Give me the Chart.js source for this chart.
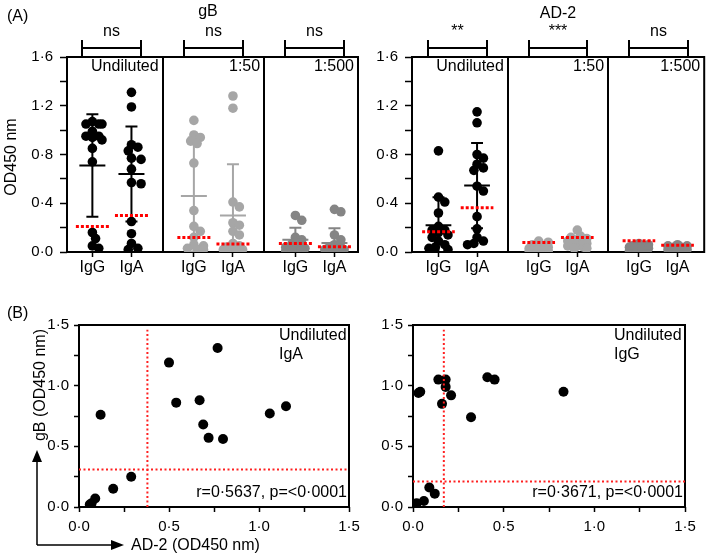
<!DOCTYPE html>
<html>
<head>
<meta charset="utf-8">
<script src="https://cdn.jsdelivr.net/npm/chart.js@4.4.1/dist/chart.umd.min.js"></script>
<style>
html,body{margin:0;padding:0;background:#ffffff;}
#fig{position:relative;width:709px;height:554px;overflow:hidden;background:#fff;font-family:"Liberation Sans",Arial,Helvetica,sans-serif;color:#000;}
#fig canvas{position:absolute;left:0;top:0;}
.t{position:absolute;white-space:nowrap;font-size:16px;line-height:1;}
</style>
</head>
<body>
<div id="fig">
<canvas id="cA1" width="709" height="554"></canvas>
<canvas id="cA2" width="709" height="554"></canvas>
<canvas id="cB1" width="709" height="554"></canvas>
<canvas id="cB2" width="709" height="554"></canvas>
</div>
<script>
// ---------------- DATA ----------------
const categories = ['IgG', 'IgA'];
const dilutions = ['Undiluted', '1:50', '1:500'];
const yTicksA = [0, 0.4, 0.8, 1.2, 1.6];
const xyTicksB = [0, 0.5, 1.0, 1.5];

// gB, OD450 (undiluted values are paired with AD-2 values, same order = same subject)
const gB_IgG_undiluted = [0.03, 0.05, 0.16, 0.11, 0.95, 1.05, 1.05, 0.99, 0.85, 0.92, 0.74, 1.07, 1.05, 0.95, 0.94];
const gB_IgA_undiluted = [0.76, 1.19, 0.86, 0.88, 0.68, 0.57, 1.31, 0.56, 0.77, 0.83, 0.25, 0.15, 0.07, 0.03, 0.02];
const gB_IgG_1to50  = [1.08, 0.96, 0.94, 0.91, 0.89, 0.73, 0.34, 0.21, 0.17, 0.12, 0.06, 0.05, 0.03, 0.02, 0.02];
const gB_IgA_1to50  = [1.28, 1.18, 0.41, 0.37, 0.24, 0.22, 0.17, 0.14, 0.07, 0.05, 0.04, 0.03, 0.02, 0.02, 0.01];
const gB_IgG_1to500 = [0.30, 0.26, 0.12, 0.10, 0.07, 0.05, 0.04, 0.03, 0.03, 0.02, 0.02, 0.02, 0.01, 0.01, 0.01];
const gB_IgA_1to500 = [0.35, 0.33, 0.14, 0.10, 0.06, 0.04, 0.03, 0.03, 0.02, 0.02, 0.02, 0.01, 0.01, 0.01, 0.01];

// AD-2, OD450
const AD2_IgG_undiluted = [0.02, 0.06, 0.09, 0.12, 0.04, 0.14, 0.18, 0.18, 0.16, 0.21, 0.32, 0.41, 0.45, 0.83, 0.03];
const AD2_IgA_undiluted = [0.12, 0.50, 0.54, 0.67, 0.69, 0.72, 0.77, 0.80, 1.06, 1.15, 0.29, 0.19, 0.09, 0.07, 0.06];
const AD2_IgG_1to50  = [0.09, 0.08, 0.06, 0.05, 0.04, 0.03, 0.03, 0.02, 0.02, 0.02, 0.01, 0.01, 0.01, 0.01, 0.01];
const AD2_IgA_1to50  = [0.18, 0.13, 0.12, 0.11, 0.10, 0.09, 0.08, 0.07, 0.07, 0.06, 0.05, 0.05, 0.04, 0.03, 0.03];
const AD2_IgG_1to500 = [0.07, 0.06, 0.05, 0.05, 0.04, 0.04, 0.03, 0.03, 0.03, 0.02, 0.02, 0.02, 0.01, 0.01, 0.01];
const AD2_IgA_1to500 = [0.06, 0.05, 0.05, 0.04, 0.04, 0.03, 0.03, 0.03, 0.02, 0.02, 0.02, 0.01, 0.01, 0.01, 0.01];

// mean, SD and cut-off per group, order: IgG/IgA for Undiluted, 1:50, 1:500
const gB_mean   = [0.71, 0.64, 0.46, 0.30, 0.10, 0.074];
const gB_sd     = [0.42, 0.39, 0.48, 0.42, 0.10, 0.12];
const gB_cutoff = [0.21, 0.30, 0.12, 0.066, 0.07, 0.044];
const AD2_mean   = [0.22, 0.545, 0.035, 0.08, 0.03, 0.025];
const AD2_sd     = [0.23, 0.35, 0.03, 0.04, 0.02, 0.015];
const AD2_cutoff = [0.167, 0.364, 0.077, 0.12, 0.093, 0.055];

const gB_sig  = ['ns', 'ns', 'ns'];
const AD2_sig = ['**', '***', 'ns'];

// panel B cut-offs (AD-2 on x, gB on y)
const B_IgA_cutoff = [0.38, 0.31];
const B_IgG_cutoff = [0.17, 0.21];
const B_IgA_stats = 'r=0\u00B75637, p=<0\u00B70001';
const B_IgG_stats = 'r=0\u00B73671, p=<0\u00B70001';

// ---------------- STYLE / HELPERS ----------------
const FONT = '"Liberation Sans", Arial, Helvetica, sans-serif';
const dilutionColors = ['#000000', '#a6a6a6', '#858585'];
const fmt = v => v.toFixed(1).replace('.', '\u00B7');
const fig = document.getElementById('fig');

function addText(txt, x, y, align, size, rot) {
  const d = document.createElement('div');
  d.className = 't';
  d.textContent = txt;
  d.style.left = x + 'px';
  d.style.top = y + 'px';
  d.style.fontSize = (size || 16) + 'px';
  const tx = align === 'right' ? '-100%' : align === 'left' ? '0' : '-50%';
  d.style.transform = 'translate(' + tx + ',-50%)' + (rot ? ' rotate(' + rot + 'deg)' : '');
  fig.appendChild(d);
}

// compact beeswarm layout (pixel space); overlap allowed once the column is full
function swarm(vals, cx, xPx, yPx) {
  const idx = vals.map((v, i) => i).sort((a, b) => vals[b] - vals[a]);
  const placed = [];
  const out = new Array(vals.length);
  const minD = 6.8, step = 3.2, maxOff = 11;
  const cands = [0];
  for (let k = 1; k * step <= maxOff; k++) { cands.push(k * step, -k * step); }
  idx.forEach(i => {
    const py = vals[i] * yPx;
    let best = 0, bestD = -1, chosen = null;
    for (const c of cands) {
      const d = placed.length ? Math.min(...placed.map(p => Math.hypot(p[0] - c, p[1] - py))) : Infinity;
      if (d >= minD) { chosen = c; break; }
      if (d > bestD) { bestD = d; best = c; }
    }
    const dx = chosen === null ? best : chosen;
    placed.push([dx, py]);
    out[i] = { x: cx + dx / xPx, y: vals[i] };
  });
  return out;
}

const decoA = {
  id: 'decoA',
  beforeDatasetsDraw(chart, args, o) {
    const { ctx, chartArea: ca, scales: { x } } = chart;
    ctx.save();
    ctx.strokeStyle = '#000';
    ctx.lineWidth = 2;
    ctx.strokeRect(ca.left, ca.top, ca.right - ca.left, ca.bottom - ca.top);
    o.dividers.forEach(v => {
      const px = Math.round(x.getPixelForValue(v));
      ctx.beginPath(); ctx.moveTo(px, ca.top); ctx.lineTo(px, ca.bottom); ctx.stroke();
    });
    ctx.fillStyle = '#000';
    ctx.font = '16px ' + FONT;
    ctx.textBaseline = 'middle';
    o.brackets.forEach((b, i) => {
      const x1 = Math.round(x.getPixelForValue(b[0])) - 10, x2 = Math.round(x.getPixelForValue(b[1])) + 10;
      const yl = ca.top - 9, yt = ca.top - 17;
      ctx.beginPath();
      ctx.moveTo(x1, yt); ctx.lineTo(x1, ca.top);
      ctx.moveTo(x2, yt); ctx.lineTo(x2, ca.top);
      ctx.moveTo(x1, yl); ctx.lineTo(x2, yl);
      ctx.stroke();
      ctx.textAlign = 'center';
      ctx.fillText(o.sig[i], (x1 + x2) / 2, ca.top - 25);
    });
    ctx.textAlign = 'right';
    o.labels.forEach((t, i) => {
      const right = i < o.dividers.length ? x.getPixelForValue(o.dividers[i]) : ca.right;
      ctx.fillText(t, right - 4, ca.top + 10);
    });
    ctx.restore();
  }
};

const decoB = {
  id: 'decoB',
  beforeDatasetsDraw(chart) {
    const { ctx, chartArea: ca } = chart;
    ctx.save();
    ctx.strokeStyle = '#000';
    ctx.lineWidth = 2;
    ctx.strokeRect(ca.left, ca.top, ca.right - ca.left, ca.bottom - ca.top);
    ctx.restore();
  }
};

const arrowsB = {
  id: 'arrowsB',
  afterDraw(chart) {
    const ctx = chart.ctx;
    ctx.save();
    ctx.strokeStyle = '#000'; ctx.fillStyle = '#000'; ctx.lineWidth = 1.5;
    const ox = 37, oy = 545;
    ctx.beginPath(); ctx.moveTo(ox, oy); ctx.lineTo(ox, 460); ctx.moveTo(ox, oy); ctx.lineTo(113, oy); ctx.stroke();
    ctx.beginPath(); ctx.moveTo(ox, 450); ctx.lineTo(ox - 5, 462); ctx.lineTo(ox + 5, 462); ctx.closePath(); ctx.fill();
    ctx.beginPath(); ctx.moveTo(124, oy); ctx.lineTo(111, oy - 5); ctx.lineTo(111, oy + 5); ctx.closePath(); ctx.fill();
    ctx.restore();
  }
};

const SP = 0.385; // IgA offset inside a dilution panel (x units)

function buildA(id, geo, series, mean, sd, cut, sig) {
  const xPx = (geo.R - geo.L) / (geo.xmax - geo.xmin);
  const yPx = (geo.B - geo.T) / 1.6;
  const centers = [];
  for (let k = 0; k < 3; k++) { centers.push(k, k + SP); }
  const datasets = [];
  series.forEach((vals, i) => {
    const col = dilutionColors[Math.floor(i / 2)];
    const cx = centers[i];
    datasets.push({
      data: swarm(vals, cx, xPx, yPx),
      pointRadius: 4.8, pointHoverRadius: 4.8,
      pointBackgroundColor: col, pointBorderWidth: 0, pointBorderColor: col,
      showLine: false, order: 3
    });
    const hi = mean[i] + sd[i], lo = Math.max(0, mean[i] - sd[i]);
    const cw = 6 / xPx, mw = 13 / xPx;
    datasets.push({
      data: [
        { x: cx, y: lo }, { x: cx, y: hi }, { x: cx, y: null },
        { x: cx - cw, y: hi }, { x: cx + cw, y: hi }, { x: cx, y: null },
        { x: cx - cw, y: lo }, { x: cx + cw, y: lo }, { x: cx, y: null },
        { x: cx - mw, y: mean[i] }, { x: cx + mw, y: mean[i] }
      ],
      showLine: true, spanGaps: false, borderColor: col, borderWidth: 2,
      pointRadius: 0, pointHoverRadius: 0, order: 2, borderCapStyle: 'butt'
    });
    const rw = 16.5 / xPx;
    datasets.push({
      data: [{ x: cx - rw, y: cut[i] }, { x: cx + rw, y: cut[i] }],
      showLine: true, borderColor: '#ff0000', borderWidth: 3, borderDash: [3, 2],
      borderCapStyle: 'butt', pointRadius: 0, pointHoverRadius: 0, order: 1
    });
  });
  return new Chart(document.getElementById(id), {
    type: 'scatter',
    data: { datasets },
    plugins: [decoA],
    options: {
      responsive: false, animation: false, events: [],
      layout: { padding: { left: 0, top: geo.T, right: 709 - geo.R, bottom: 0 } },
      plugins: {
        legend: { display: false }, tooltip: { enabled: false },
        decoA: {
          dividers: [SP + (1 - SP) / 2, 1 + SP + (1 - SP) / 2],
          brackets: [[0, SP], [1, 1 + SP], [2, 2 + SP]],
          sig: sig,
          labels: dilutions
        }
      },
      scales: {
        x: {
          type: 'linear', min: geo.xmin, max: geo.xmax,
          afterBuildTicks: s => { s.ticks = centers.map(v => ({ value: v })); },
          afterFit: s => { s.height = 554 - geo.B; },
          border: { display: false },
          grid: { drawOnChartArea: false, drawTicks: true, tickLength: 5, tickColor: '#000', tickWidth: 1.5 },
          ticks: { autoSkip: false, maxRotation: 0, padding: 1, color: '#000', font: { family: FONT, size: 16 },
                   callback: (v, i) => categories[i % 2] }
        },
        y: {
          type: 'linear', min: 0, max: 1.6,
          afterFit: s => { s.width = geo.L; },
          border: { display: false },
          grid: { drawOnChartArea: false, drawTicks: true, tickLength: 7, tickColor: '#000', tickWidth: 1.5 },
          ticks: { stepSize: 0.2, padding: 7, color: '#000', font: { family: FONT, size: 15 },
                   callback: v => (yTicksA.some(t => Math.abs(t - v) < 1e-6) ? fmt(v) : '') }
        }
      }
    }
  });
}

function buildB(id, geo, xs, ys, cutoff, extra) {
  const pts = xs.map((v, i) => ({ x: v, y: ys[i] }));
  const datasets = [
    { data: pts, pointRadius: 5, pointHoverRadius: 5, pointBackgroundColor: '#000', pointBorderWidth: 0, showLine: false, order: 2 },
    { data: [{ x: cutoff[0], y: 0 }, { x: cutoff[0], y: 1.46 }], showLine: true, borderColor: '#ff2020', borderWidth: 2,
      borderDash: [2, 2.5], pointRadius: 0, pointHoverRadius: 0, order: 1 },
    { data: [{ x: 0, y: cutoff[1] }, { x: 1.5, y: cutoff[1] }], showLine: true, borderColor: '#ff2020', borderWidth: 2,
      borderDash: [2, 2.5], pointRadius: 0, pointHoverRadius: 0, order: 1 }
  ];
  const tickCb = v => (xyTicksB.some(t => Math.abs(t - v) < 1e-6) ? fmt(v) : '');
  return new Chart(document.getElementById(id), {
    type: 'scatter',
    data: { datasets },
    plugins: [decoB].concat(extra || []),
    options: {
      responsive: false, animation: false, events: [],
      layout: { padding: { left: 0, top: geo.T, right: 709 - geo.R, bottom: 0 } },
      plugins: { legend: { display: false }, tooltip: { enabled: false } },
      scales: {
        x: {
          type: 'linear', min: 0, max: 1.5,
          afterFit: s => { s.height = 554 - geo.B; },
          border: { display: false },
          grid: { drawOnChartArea: false, drawTicks: true, tickLength: 5, tickColor: '#000', tickWidth: 1.5 },
          ticks: { stepSize: 0.25, autoSkip: false, maxRotation: 0, padding: 6, color: '#000',
                   font: { family: FONT, size: 15 }, callback: tickCb }
        },
        y: {
          type: 'linear', min: 0, max: 1.5,
          afterFit: s => { s.width = geo.L; },
          border: { display: false },
          grid: { drawOnChartArea: false, drawTicks: true, tickLength: 5, tickColor: '#000', tickWidth: 1.5 },
          ticks: { stepSize: 0.25, padding: 5, color: '#000', font: { family: FONT, size: 15 }, callback: tickCb }
        }
      }
    }
  });
}

// ---------------- CHARTS ----------------
buildA('cA1', { L: 67, R: 358, T: 57, B: 252, xmin: -0.25, xmax: 2.617 },
  [gB_IgG_undiluted, gB_IgA_undiluted, gB_IgG_1to50, gB_IgA_1to50, gB_IgG_1to500, gB_IgA_1to500],
  gB_mean, gB_sd, gB_cutoff, gB_sig);
buildA('cA2', { L: 412, R: 707, T: 57, B: 252, xmin: -0.264, xmax: 2.651 },
  [AD2_IgG_undiluted, AD2_IgA_undiluted, AD2_IgG_1to50, AD2_IgA_1to50, AD2_IgG_1to500, AD2_IgA_1to500],
  AD2_mean, AD2_sd, AD2_cutoff, AD2_sig);
buildB('cB1', { L: 79, R: 349, T: 325, B: 507 }, AD2_IgA_undiluted, gB_IgA_undiluted, B_IgA_cutoff, [arrowsB]);
buildB('cB2', { L: 413, R: 685, T: 325, B: 507 }, AD2_IgG_undiluted, gB_IgG_undiluted, B_IgG_cutoff);

// ---------------- TEXT ----------------
addText('(A)', 7, 16, 'left', 16);
addText('gB', 208, 11, 'center', 16);
addText('AD-2', 558, 12.5, 'center', 16);
addText('OD450 nm', 11, 157, 'center', 16, -90);
addText('(B)', 7, 313, 'left', 16);
addText('gB (OD450 nm)', 40, 385, 'center', 16, -90);
addText('AD-2 (OD450 nm)', 131, 545, 'left', 16);
addText('Undiluted', 279, 335, 'left', 16);
addText('IgA', 279, 354, 'left', 16);
addText(B_IgA_stats, 347, 492, 'right', 16);
addText('Undiluted', 614, 335, 'left', 16);
addText('IgG', 614, 354, 'left', 16);
addText(B_IgG_stats, 683, 492, 'right', 16);
</script>
</body>
</html>
